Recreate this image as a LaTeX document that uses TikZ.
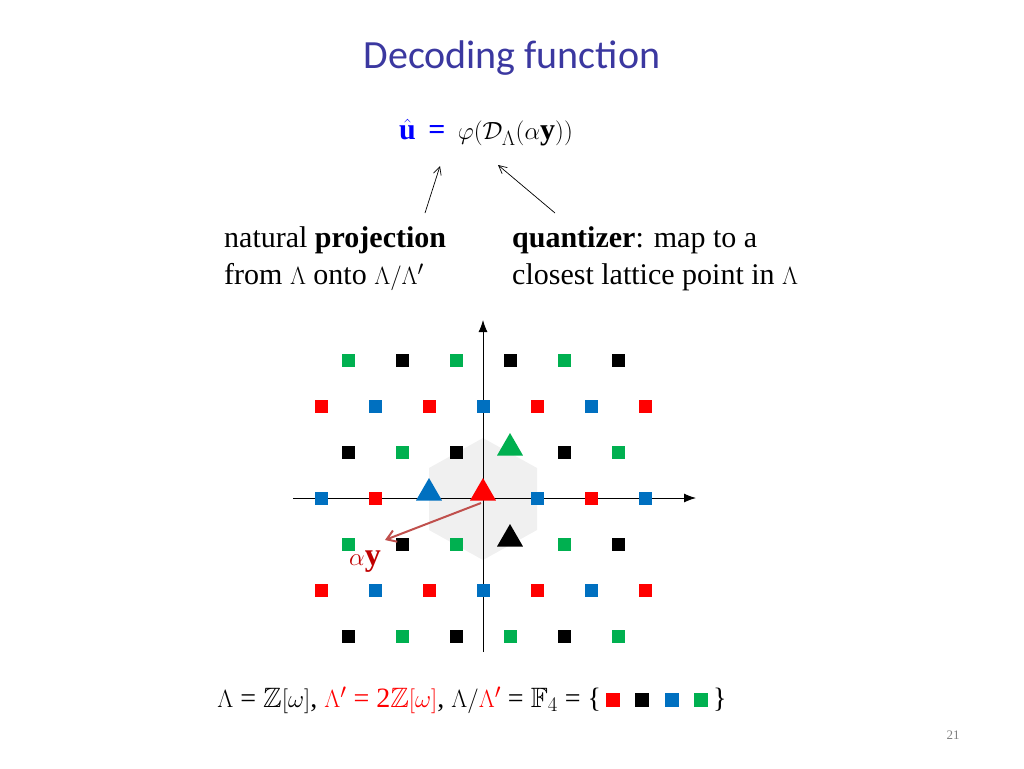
\documentclass[tikz,border=0pt]{standalone}
\usepackage{amssymb}
\usepackage{fontspec}
\setmainfont{Liberation Serif}
\newfontfamily\titlefont{Carlito}
\usetikzlibrary{arrows.meta,shapes.geometric}
\definecolor{cr}{RGB}{255,0,0}
\definecolor{cb}{RGB}{0,112,192}
\definecolor{cg}{RGB}{0,176,80}
\definecolor{ck}{RGB}{0,0,0}
\definecolor{titc}{RGB}{59,56,160}
\definecolor{arrc}{RGB}{192,80,77}
\definecolor{ayc}{RGB}{192,0,0}
\tikzset{
  sq/.style={fill=#1,minimum size=13pt,inner sep=0pt},
  tri/.style={fill=#1,regular polygon,regular polygon sides=3,inner sep=0pt,minimum size=30pt},
  lbl/.style={font=\fontsize{30}{34}\selectfont,anchor=west,inner sep=0pt},
  ptr/.style={-{Straight Barb[length=8pt,width=8pt]},line width=0.7pt}
}
\begin{document}
\begin{tikzpicture}[x=1pt,y=-1pt]
\useasboundingbox (0,0) rectangle (1024,768);
\node[text=titc,font=\titlefont\fontsize{40}{44}\selectfont] (title) at (512,58) {Decoding function};
\node[font=\fontsize{30}{34}\selectfont] (formula) at (486,133) {\textcolor{blue}{$\hat{\mathbf u}$\, \textbf{=}}\, $\varphi(\mathcal{D}_{\Lambda}(\alpha\mathbf{y}))$};
\node[lbl] (l1) at (224,240) {natural \textbf{projection}};
\node[lbl] (l2) at (224,277) {from $\Lambda$ onto $\Lambda/\Lambda'$};
\node[lbl] (r1) at (512,240) {\textbf{quantizer}: map to a};
\node[lbl] (r2) at (512,277) {closest lattice point in $\Lambda$};
\coordinate (p1s) at (425,213); \coordinate (p1e) at (440,166);
\coordinate (p2s) at (555,213); \coordinate (p2e) at (498,165);
\draw[ptr] (p1s) -- (p1e);
\draw[ptr] (p2s) -- (p2e);
% hexagon
\fill[gray!12] (483,438) -- (537,468) -- (537,530) -- (483,560) -- (429,530) -- (429,468) -- cycle;
% axes
\coordinate (xa) at (293,498); \coordinate (xb) at (696,498);
\coordinate (ya) at (483,652); \coordinate (yb) at (483,320);
\draw[-{Latex[length=12pt,width=9pt]},line width=0.9pt] (xa) -- (xb);
\draw[-{Latex[length=12pt,width=9pt]},line width=0.9pt] (ya) -- (yb);
% lattice
\foreach \b/\amin/\amax in {3/-4/1,2/-4/2,1/-3/2,0/-3/3,-1/-2/3,-2/-2/4,-3/-1/4}{
  \foreach \a in {\amin,...,\amax}{
    \pgfmathsetmacro{\px}{483+54*\a+27*\b}
    \pgfmathsetmacro{\py}{498-46*\b}
    \pgfmathtruncatemacro{\k}{(\a+5)*10+(\b+5)}
    \def\skipit{0}
    \ifnum\k=55 \def\skipit{1}\fi
    \ifnum\k=45 \def\skipit{1}\fi
    \ifnum\k=56 \def\skipit{1}\fi
    \ifnum\k=64 \def\skipit{1}\fi
    \ifodd\b
      \ifodd\a \def\cc{ck}\else\def\cc{cg}\fi
    \else
      \ifodd\a \def\cc{cb}\else\def\cc{cr}\fi
    \fi
    \ifnum\skipit=0
      \node[sq=\cc] (p\a x\b) at (\px,\py) {};
    \fi
  }
}
\node[tri=cb] (tb) at (429,493) {};
\node[tri=cg] (tg) at (510,448) {};
\node[tri=ck] (tk) at (510,539) {};
\node[tri=cr] (tr) at (483,493) {};
\coordinate (o) at (481,503);
\coordinate (ay) at (385,540);
\draw[arrc,line width=2pt,-{Straight Barb[length=9pt,width=12pt]}] (o) -- (ay);
\node[text=ayc,font=\fontsize{32}{36}\selectfont] (aylbl) at (365,562) {$\alpha\mathbf{y}$};
\node[font=\fontsize{28}{32}\selectfont] (bottom) at (472,700) {$\Lambda$ = $\mathbb{Z}[\omega]$, \textcolor{cr}{$\Lambda'$ = 2$\mathbb{Z}[\omega]$}, $\Lambda/$\textcolor{cr}{$\Lambda'$} = $\mathbb{F}_4$ = \{\,\tikz\fill[cr] (0,0) rectangle (14pt,14pt);\;\;\tikz\fill[ck] (0,0) rectangle (14pt,14pt);\;\;\tikz\fill[cb] (0,0) rectangle (14pt,14pt);\;\;\tikz\fill[cg] (0,0) rectangle (14pt,14pt);\,\}};
\node[text=gray,font=\fontsize{13}{15}\selectfont] (pg) at (953,735) {21};
\end{tikzpicture}
\end{document}
